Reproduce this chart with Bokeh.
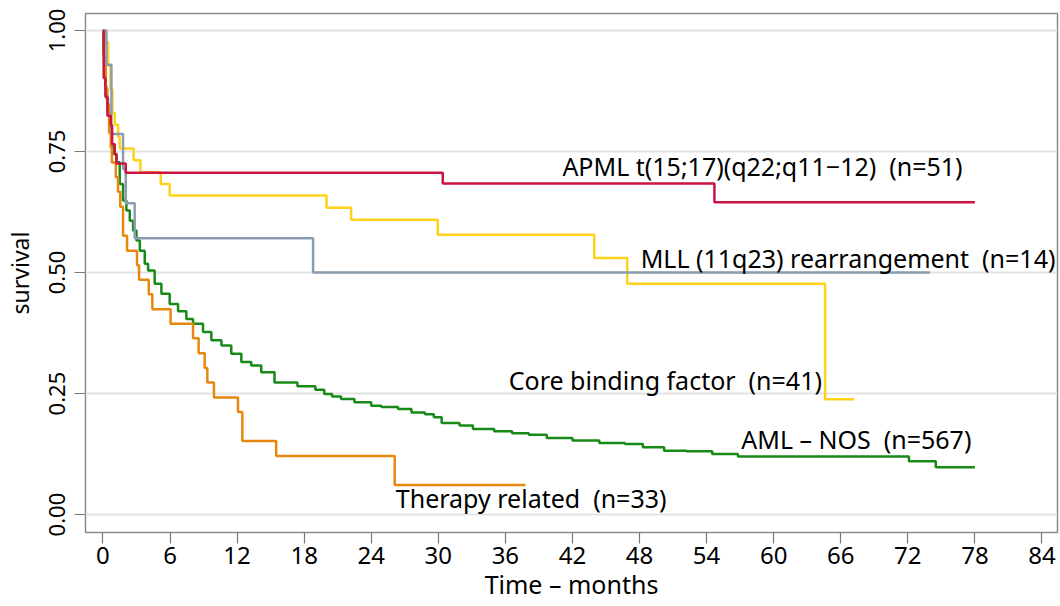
from bokeh.plotting import figure
from bokeh.models import FixedTicker, Range1d, Label, PrintfTickFormatter
from bokeh.embed import file_html
from bokeh.resources import INLINE

# ---- data (months, survival) ----
apml_t = [0, 0.07, 0.22, 0.40, 0.70, 0.82, 1.06, 1.21, 2.04, 30.4, 54.7, 78.0]
apml_s = [1.0, 0.902, 0.863, 0.824, 0.804, 0.765, 0.745, 0.725, 0.706, 0.684, 0.645, 0.645]

cbf_t = [0, 0.25, 0.46, 0.67, 0.85, 1.06, 1.36, 1.5, 2.75, 3.35, 5.17, 5.97, 20.0, 22.2,
         29.95, 43.95, 46.9, 64.6, 67.2]
cbf_s = [1.0, 0.976, 0.927, 0.878, 0.829, 0.805, 0.780, 0.756, 0.732, 0.707, 0.683, 0.659,
         0.634, 0.609, 0.578, 0.530, 0.477, 0.238, 0.238]

mll_t = [0, 0.31, 0.76, 1.8, 2.04, 2.84, 18.8, 74.0]
mll_s = [1.0, 0.929, 0.786, 0.714, 0.643, 0.571, 0.5, 0.5]

ther_t = [0, 0.1, 0.25, 0.4, 0.55, 0.7, 0.8, 1.15, 1.35, 1.55, 1.8, 2.16, 3.05, 3.23, 4.1,
          4.42, 6.05, 8.06, 8.56, 9.1, 9.34, 9.93, 12.08, 12.47, 15.5, 26.1, 37.8]
ther_s = [1.0, 0.939, 0.879, 0.848, 0.788, 0.758, 0.727, 0.697, 0.667, 0.636, 0.576, 0.545,
          0.515, 0.485, 0.455, 0.424, 0.394, 0.364, 0.333, 0.303, 0.273, 0.242, 0.212, 0.152,
          0.121, 0.061, 0.061]

nos_t = [0, 0.05, 0.1, 0.2, 0.3, 0.45, 0.6, 0.76, 0.95, 1.21, 1.5, 1.8, 2.1, 2.4, 2.7, 3.0,
         3.3, 3.74, 4.04, 4.63, 5.23, 5.97, 6.72, 7.46, 8.06, 8.95, 9.7, 10.6, 11.48, 12.38,
         13.27, 14.16, 15.35, 17.4, 19.0, 19.8, 20.5, 21.3, 22.5, 24.0, 24.9, 26.4, 27.6,
         28.8, 29.6, 30.3, 31.9, 33.1, 35.0, 36.6, 38.1, 39.7, 42.0, 44.4, 46.7, 48.3, 50.2,
         52.2, 54.5, 56.8, 72.1, 74.5, 78.0]
nos_s = [1.0, 0.95, 0.92, 0.885, 0.86, 0.83, 0.80, 0.765, 0.745, 0.728, 0.683, 0.649, 0.628,
         0.607, 0.587, 0.566, 0.545, 0.518, 0.504, 0.477, 0.456, 0.435, 0.420, 0.404, 0.394,
         0.377, 0.360, 0.349, 0.332, 0.315, 0.308, 0.294, 0.273, 0.265, 0.258, 0.249, 0.244,
         0.239, 0.232, 0.225, 0.222, 0.218, 0.211, 0.207, 0.201, 0.189, 0.184, 0.177, 0.172,
         0.168, 0.165, 0.158, 0.153, 0.148, 0.146, 0.139, 0.132, 0.131, 0.125, 0.120, 0.110,
         0.098, 0.098]

x_ticks = [0, 6, 12, 18, 24, 30, 36, 42, 48, 54, 60, 66, 72, 78, 84]
y_ticks = [0.0, 0.25, 0.5, 0.75, 1.0]

SP = " \u00a0"
labels = ["APML t(15;17)(q22;q11\u221212)" + SP + "(n=51)",
          "MLL (11q23) rearrangement" + SP + "(n=14)",
          "Core binding factor" + SP + "(n=41)",
          "AML \u2013 NOS" + SP + "(n=567)",
          "Therapy related" + SP + "(n=33)"]
label_x = [41.1, 48.1, 36.3, 57.1, 26.2]
label_y = [0.719, 0.531, 0.279, 0.157, 0.035]

FONT = "Noto Sans"

p = figure(width=1059, height=605, output_backend="svg", toolbar_location=None,
           x_range=Range1d(-1.56, 85.39), y_range=Range1d(-0.037, 1.035),
           min_border_left=84, min_border_right=2, min_border_top=13, min_border_bottom=73)

p.outline_line_color = "#8a8a8a"
p.outline_line_width = 1.5
p.xgrid.grid_line_color = None
p.ygrid.grid_line_color = "#e3e3e3"
p.ygrid.grid_line_width = 2
p.ygrid.ticker = FixedTicker(ticks=y_ticks)

p.xaxis.ticker = FixedTicker(ticks=x_ticks)
p.yaxis.ticker = FixedTicker(ticks=y_ticks)
p.yaxis.formatter = PrintfTickFormatter(format="%.2f")

for ax in (p.xaxis, p.yaxis):
    ax.axis_line_color = None
    ax.major_tick_out = 11
    ax.major_tick_in = 0
    ax.major_tick_line_color = "#7a7a7a"
    ax.major_tick_line_width = 1.2
    ax.minor_tick_line_color = None
    ax.major_label_text_font = FONT
    ax.major_label_text_color = "black"
    ax.axis_label_text_font = FONT
    ax.axis_label_text_font_style = "normal"
    ax.axis_label_text_color = "black"

p.xaxis.major_label_text_font_size = "24px"
p.yaxis.major_label_text_font_size = "22px"
p.xaxis.axis_label_text_font_size = "25px"
p.yaxis.axis_label_text_font_size = "23px"

p.xaxis.axis_label = "Time \u2013 months"
p.xaxis.major_label_standoff = 3
p.xaxis.axis_label_standoff = 0
p.yaxis.axis_label = "survival"
p.yaxis.major_label_orientation = "vertical"
p.yaxis.major_label_standoff = 9
p.yaxis.axis_label_standoff = 11

LW = 2.5
p.step(nos_t, nos_s, mode="after", line_color="#178a17", line_width=LW)
p.step(ther_t, ther_s, mode="after", line_color="#e8870f", line_width=LW)
p.step(cbf_t, cbf_s, mode="after", line_color="#ffd21a", line_width=LW)
p.step(mll_t, mll_s, mode="after", line_color="#8a9db0", line_width=LW)
p.step(apml_t, apml_s, mode="after", line_color="#cc1443", line_width=LW)

for txt, lx, ly in zip(labels, label_x, label_y):
    p.add_layout(Label(x=lx, y=ly, text=txt, text_font=FONT, text_font_size="25px",
                       text_baseline="middle", text_align="left", text_color="black"))

open("out.html", "w").write(file_html(p, INLINE))
